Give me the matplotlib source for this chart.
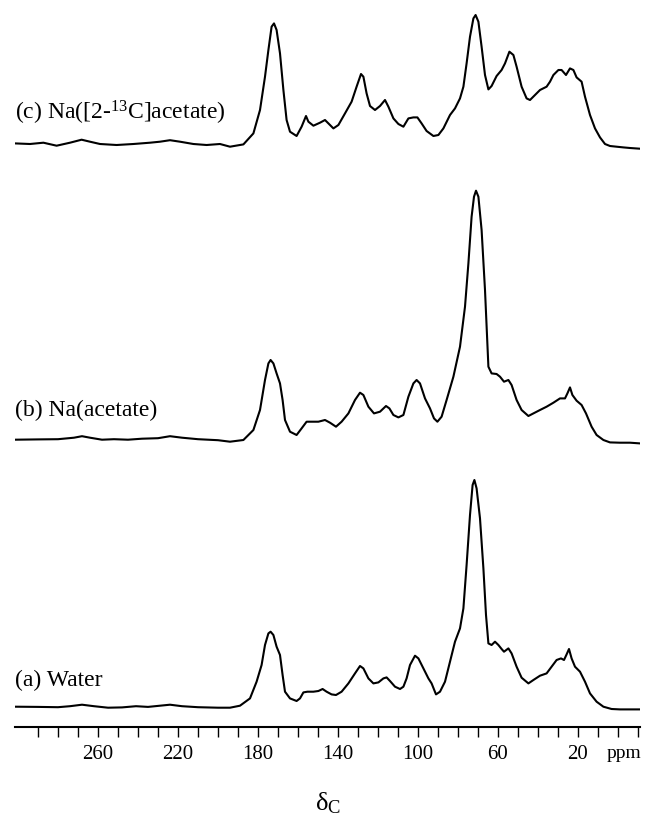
import numpy as np
import matplotlib
matplotlib.use("Agg")
import matplotlib.pyplot as plt

plt.rcParams["font.family"] = ["Liberation Serif", "DejaVu Serif"]

# (a) Water
ppm_a = [301.5, 290, 280, 274, 268, 262, 255, 248, 241, 235, 229, 224, 218, 210, 200,
         194.0, 189.0, 184.0, 180.7, 178.2, 176.5, 174.8, 173.7, 172.3, 170.7, 169.0, 167.7, 166.5,
         164.0, 160.7, 159.0, 157.3, 155.3, 152.3, 149.8, 147.7, 145.7, 143.2, 141.0, 138.2, 134.8,
         131.5, 129.0, 127.3, 124.8, 122.3, 119.8, 117.3, 115.7, 114.0, 111.5, 109.0, 107.3, 105.7,
         104.0, 101.5, 99.8, 97.3, 94.8, 93.2, 91.0, 89.0, 86.5, 84.0, 81.5, 79.0, 77.3, 75.7, 74.0,
         72.7, 71.8, 70.7, 69.0, 67.3, 66.0, 64.8, 63.2, 61.5, 59.8, 58.2, 57.0, 54.8, 53.2, 50.7,
         48.2, 44.8, 42.3, 39.0, 35.7, 33.2, 30.7, 28.5, 27.0, 25.7, 24.5, 23.2, 21.5, 19.0, 16.5,
         14.0, 10.7, 7.3, 3.2, -1.0, -6.0, -11.0]
int_a = [1.0, 0.8, 0.5, 1.5, 3.0, 1.5, 0.0, 0.3, 1.5, 0.8, 2.0, 3.0, 1.5, 0.5, 0.0,
         0, 2, 9.3, 26, 42.7, 62.7, 74.3, 76, 72.7, 61, 52.7, 32.7, 16,
         9.3, 6.7, 9.3, 15.3, 16, 16, 16.7, 18.7, 16, 13.3, 12.7, 16, 24.3,
         34.3, 41.7, 39.3, 29.3, 24.3, 25.3, 29.3, 30.3, 26.7, 21, 18.7, 21, 29.3,
         42.7, 52, 49.3, 39.3, 29.3, 24.3, 13.3, 16, 26, 46, 66, 79.3, 99.3, 142.7, 192.7,
         222.7, 227.7, 219.3, 189.3, 139.3, 92.7, 64.3, 62.7, 66, 62.7, 58.7, 56, 59.3, 54.3, 41,
         30, 24.3, 27.7, 32, 34.3, 41, 47.7, 49.3, 47.7, 53.3, 58.7, 49.3, 41, 36, 26,
         14.3, 6, 1, -1.3, -1.7, -1.7, -1.7]

# (b) Na(acetate)
ppm_b = [301.5, 290, 280, 272, 268, 264, 258, 252, 245, 238, 230, 224, 218, 210, 200,
         194.0, 187.3, 182.3, 179.0, 176.5, 174.8, 173.7, 172.3, 170.7, 169.0, 167.7, 166.5,
         164.0, 160.7, 158.2, 155.7, 153.2, 149.8, 146.5, 144.0, 141.0, 138.2, 134.8, 131.5,
         129.0, 127.3, 124.8, 122.0, 119.0, 116.0, 114.3, 112.3, 109.8, 107.3, 104.8, 102.3,
         100.7, 99.0, 96.5, 94.0, 92.0, 90.3, 88.2, 85.7, 82.3, 79.0, 76.5, 74.8, 73.2, 72.0,
         71.0, 69.8, 68.2, 66.5, 64.8, 63.2, 60.7, 59.0, 57.0, 54.8, 53.2, 50.7, 48.2, 44.8,
         42.3, 39.0, 35.7, 32.3, 29.0, 26.5, 25.3, 24.0, 22.8, 20.7, 18.2, 16.0, 13.2, 10.7,
         7.3, 4.0, -1.0, -6.0, -11.0]
int_b = [2.0, 2.3, 2.5, 4.0, 5.5, 4.0, 2.0, 2.5, 2.0, 3.0, 3.5, 5.5, 4.0, 2.5, 1.5,
         0, 1.7, 11.7, 31.7, 61.7, 78.3, 81.7, 78.3, 68.3, 58.3, 41.7, 21.7,
         10, 6.7, 13.3, 20, 20, 20, 21.7, 19, 15, 20, 28.3, 41.7,
         49, 46.7, 35, 28.3, 30, 35.7, 33.3, 26.7, 24.3, 26.7, 45, 58.3,
         61.7, 58.3, 43.3, 33.3, 23.3, 20, 25, 41.7, 65, 95, 135, 178.3, 225, 245,
         251, 245, 211.7, 151.7, 75, 68.3, 67.7, 65, 60, 61.7, 56.7, 41.7, 31.7, 25.7,
         28.3, 31.7, 35, 39, 43.3, 43.3, 48.3, 54.3, 46.7, 41, 36.7, 28.3, 15, 6.7,
         1.7, -0.7, -1, -1, -1.7]

# (c) Na([2-13C]acetate)
ppm_c = [301.5, 294.0, 287.3, 280.7, 274.0, 268.2, 264.0, 259.0, 250.7, 242.3, 234.0, 229.0,
         224.0, 219.0, 212.3, 205.7, 199.0,
         194.0, 187.3, 182.3, 179.0, 176.5, 174.8, 173.2, 172.0, 170.7, 169.0, 167.3, 165.7,
         164.0, 160.7, 158.2, 156.0, 154.8, 152.3, 149.0, 146.5, 144.0, 142.3, 139.8, 136.5,
         133.2, 130.7, 128.5, 127.3, 125.7, 124.0, 121.5, 119.0, 116.5, 114.8, 112.3, 109.8,
         107.3, 104.8, 102.3, 100.3, 98.2, 95.7, 92.3, 89.8, 87.3, 84.0, 81.5, 79.0, 77.3, 75.7,
         74.0, 72.3, 71.2, 69.8, 68.2, 66.5, 64.8, 63.2, 60.7, 58.2, 56.5, 54.3, 52.3, 50.7,
         48.2, 45.7, 44.0, 41.5, 39.0, 35.7, 34.0, 32.3, 29.8, 28.2, 26.0, 24.0, 22.3, 20.7,
         18.2, 16.5, 14.0, 11.5, 9.0, 6.5, 4.0, 0.7, -2.7, -6.0, -11.0]
int_c = [3.3, 2.7, 4.0, 1.0, 4.0, 7.0, 5.0, 2.7, 1.7, 2.7, 4.0, 5.0,
         6.5, 5.0, 2.7, 1.7, 2.7,
         0, 2.3, 13.3, 36.7, 70, 96.7, 120, 123.3, 116.7, 93.3, 56.7, 26.7,
         15, 10.7, 20, 30.7, 25, 21, 24, 26.7, 21.7, 18.3, 21.7, 33.3,
         45, 60, 72.7, 70, 53.3, 40.7, 36.7, 40.7, 46.7, 40, 28.3, 22.7,
         20, 28.3, 29.3, 29.3, 23.3, 15.7, 10.7, 11.7, 18.3, 31.7, 38.3, 48.3, 60, 83.3,
         110, 128.3, 131.7, 125, 100, 71.7, 57.3, 60.7, 70.7, 76.7, 83.3, 95, 91.7, 80,
         60, 48.3, 46.7, 51.7, 56.7, 60, 65, 71.7, 76.7, 76.7, 71.7, 78.3, 76.7, 69.3,
         65, 50, 31.7, 18.3, 9.3, 2.7, 0.7, 0, -0.7, -1.3, -2]

labels = ["(a) Water", "(b) Na(acetate)", r"(c) Na([2-$\mathregular{^{13}}$C]acetate)"]
offsets = [19.3, 285.3, 580.3]
label_y = [47, 317, 614]

tick_pos = np.arange(-10, 300, 10)
tick_lab = [str(t) if t in (260, 220, 180, 140, 100, 60, 20) else "" for t in tick_pos]

fig = plt.figure(figsize=(6.45, 8.16), dpi=100)
ax = fig.add_axes([15 / 645, 89 / 816, 625 / 645, 727 / 816])

for x, y, off in zip([ppm_a, ppm_b, ppm_c], [int_a, int_b, int_c], offsets):
    ax.plot(x, np.array(y) + off, color="black", linewidth=1.5,
            solid_joinstyle="round")

for lab, ly in zip(labels, label_y):
    ax.text(301.5, ly, lab, fontsize=17, va="center", ha="left")

ax.set_xlim(301.5, -11)
ax.set_ylim(0, 727)
for s in ["top", "left", "right"]:
    ax.spines[s].set_visible(False)
ax.spines["bottom"].set_linewidth(1.5)
ax.set_yticks([])
ax.set_xticks(tick_pos)
ax.set_xticklabels(tick_lab)
ax.tick_params(axis="x", direction="out", length=7, width=1, pad=6, labelsize=15)

fig.text(624 / 645, 1 - 753 / 816, "ppm", fontsize=14, ha="center", va="center")
fig.text(328 / 645, 1 - 803 / 816, r"$\mathregular{\delta_C}$", fontsize=19, ha="center", va="center")

fig.savefig("out.png", dpi=100)
